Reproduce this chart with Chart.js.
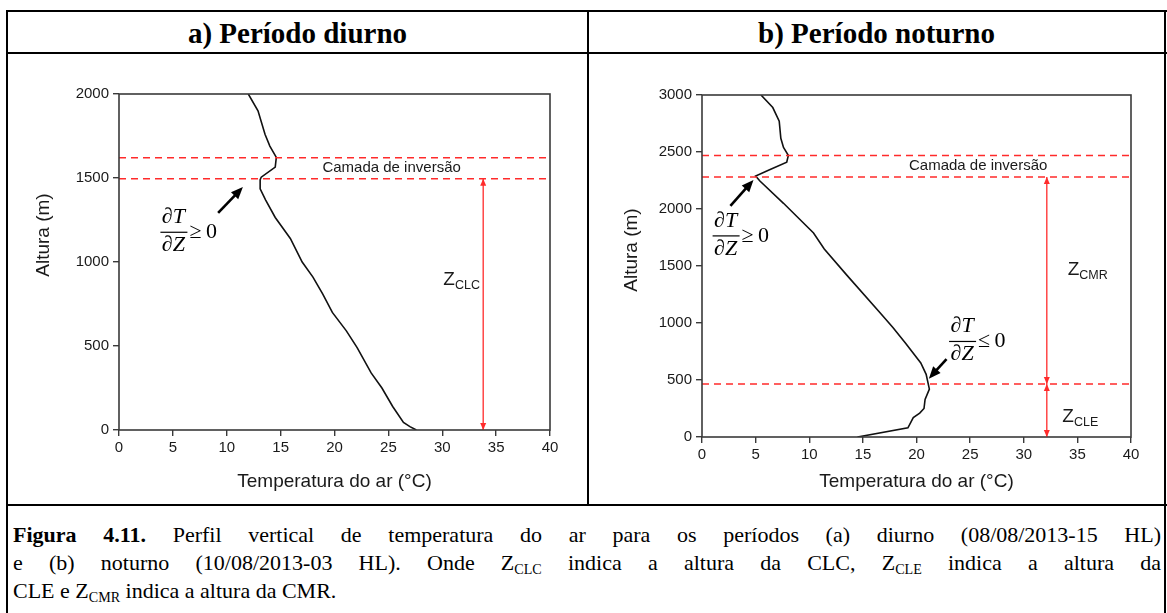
<!DOCTYPE html>
<html>
<head>
<meta charset="utf-8">
<script src="https://cdn.jsdelivr.net/npm/chart.js@4.4.0/dist/chart.umd.min.js"></script>
<style>
  body { margin: 0; width: 1167px; height: 613px; background: #fff; position: relative; overflow: hidden;
         font-family: "Liberation Serif", "Times New Roman", serif; color: #000; }
  .ln { position: absolute; background: #000; }
  .hd { position: absolute; top: 12px; height: 41px; line-height: 43px; text-align: center; font-weight: bold; font-size: 29px; }
  canvas { position: absolute; }
  #cap { position: absolute; left: 13px; top: 521px; width: 1148px; font-size: 22px; line-height: 28px; white-space: nowrap; }
  #cap .j { text-align: justify; text-align-last: justify; white-space: normal; }
  sub { font-size: 0.64em; vertical-align: -0.28em; line-height: 0; }
</style>
</head>
<body>
<!-- moldura da tabela -->
<div class="ln" style="left:6px;top:10px;width:1161px;height:2px"></div>
<div class="ln" style="left:6px;top:52px;width:1161px;height:2px"></div>
<div class="ln" style="left:6px;top:504px;width:1161px;height:2px"></div>
<div class="ln" style="left:6px;top:10px;width:2px;height:603px"></div>
<div class="ln" style="left:1164px;top:10px;width:2px;height:603px"></div>
<div class="ln" style="left:587px;top:10px;width:2px;height:495px"></div>

<div class="hd" style="left:8px;width:579px">a) Período diurno</div>
<div class="hd" style="left:589px;width:575px">b) Período noturno</div>

<canvas id="dia" width="575" height="446" style="left:10px;top:56px"></canvas>
<canvas id="noite" width="572" height="446" style="left:592px;top:56px"></canvas>

<div id="cap">
  <div class="j"><b>Figura 4.11.</b> Perfil vertical de temperatura do ar para os períodos (a) diurno (08/08/2013-15 HL)</div>
  <div class="j">e (b) noturno (10/08/2013-03 HL). Onde Z<sub>CLC</sub> indica a altura da CLC, Z<sub>CLE</sub> indica a altura da</div>
  <div>CLE e Z<sub>CMR</sub> indica a altura da CMR.</div>
</div>

<script>
// eixos
const tempTicks = [0, 5, 10, 15, 20, 25, 30, 35, 40];
const alturaTicksDia = [0, 500, 1000, 1500, 2000];
const alturaTicksNoite = [0, 500, 1000, 1500, 2000, 2500, 3000];

// perfil diurno (08/08/2013 - 15 HL)
const alturaDia = [0, 20, 45, 140, 250, 340, 490, 590, 700, 810, 910, 1000, 1140, 1265, 1370, 1435, 1490, 1505, 1565, 1623, 1690, 1760, 1900, 2000];
const tempDia   = [27.6, 27.0, 26.4, 25.4, 24.4, 23.4, 22.1, 21.1, 19.8, 18.9, 18.0, 17.0, 15.9, 14.5, 13.6, 13.1, 13.1, 13.2, 14.5, 14.6, 14.0, 13.55, 12.9, 12.0];

// perfil noturno (10/08/2013 - 03 HL)
const alturaNoite = [0, 80, 170, 210, 250, 330, 420, 550, 650, 820, 960, 1090, 1420, 1650, 1790, 2050, 2245, 2290, 2345, 2410, 2470, 2540, 2620, 2770, 2890, 3000];
const tempNoite   = [14.5, 19.2, 19.7, 20.3, 20.7, 20.8, 21.2, 20.9, 20.4, 19.0, 17.8, 16.6, 13.5, 11.4, 10.4, 7.6, 5.4, 5.0, 6.3, 7.9, 8.05, 7.6, 7.35, 7.2, 6.6, 5.5];

// camadas (m)
const inversaoDia = [1495, 1620];
const zClc = [0, 1495];
const inversaoNoite = [2280, 2470];
const zCle = [0, 465];
const zCmr = [465, 2280];
const tempSetaDia = 33.8;
const tempSetaNoite = 32.15;

const VERMELHO = '#ff2b2b';
const SANS = "'Liberation Sans', Arial, sans-serif";
const SERIF = "'Liberation Serif', 'Times New Roman', serif";

Chart.defaults.font.family = SANS;
Chart.defaults.color = '#1a1a1a';

function perfil(alturas, temps) {
  return {
    data: temps.map((t, i) => ({ x: t, y: alturas[i] })),
    showLine: true, borderColor: '#111', borderWidth: 1.6, pointRadius: 0, tension: 0
  };
}
function tracejada(h) {
  return {
    data: [{ x: 0, y: h }, { x: 40, y: h }],
    showLine: true, borderColor: VERMELHO, borderWidth: 1.5, borderDash: [7, 5], pointRadius: 0
  };
}
function vertical(t, faixa) {
  return {
    data: [{ x: t, y: faixa[0] }, { x: t, y: faixa[1] }],
    showLine: true, borderColor: VERMELHO, borderWidth: 1.3, pointRadius: 0
  };
}

function ponta(ctx, x0, y0, x1, y1, len, half) {
  const ang = Math.atan2(y1 - y0, x1 - x0);
  const c = Math.cos(ang), s = Math.sin(ang);
  ctx.beginPath();
  ctx.moveTo(x1, y1);
  ctx.lineTo(x1 - len * c + half * s, y1 - len * s - half * c);
  ctx.lineTo(x1 - len * c - half * s, y1 - len * s + half * c);
  ctx.closePath();
  ctx.fill();
}

// moldura, setas, textos e rótulo vertical
const anotacoes = {
  id: 'anotacoes',
  afterDatasetsDraw(chart, args, o) {
    const { ctx, chartArea: a, scales: { x, y } } = chart;
    ctx.save();
    ctx.strokeStyle = '#3a3a3a';
    ctx.lineWidth = 1.6;
    ctx.strokeRect(a.left, a.top, a.right - a.left, a.bottom - a.top);

    // pontas das setas vermelhas
    ctx.fillStyle = VERMELHO;
    o.cotas.forEach(c => {
      const px = x.getPixelForValue(c.t);
      const pb = y.getPixelForValue(c.faixa[0]), pt = y.getPixelForValue(c.faixa[1]);
      ponta(ctx, px, pt, px, pb, 7, 3);
      ponta(ctx, px, pb, px, pt, 7, 3);
    });

    // setas pretas
    ctx.strokeStyle = '#000';
    ctx.fillStyle = '#000';
    ctx.lineWidth = 2.6;
    o.setas.forEach(s => {
      const x0 = x.getPixelForValue(s.de[0]), y0 = y.getPixelForValue(s.de[1]);
      const x1 = x.getPixelForValue(s.ate[0]), y1 = y.getPixelForValue(s.ate[1]);
      const ang = Math.atan2(y1 - y0, x1 - x0);
      ctx.beginPath();
      ctx.moveTo(x0, y0);
      ctx.lineTo(x1 - 8 * Math.cos(ang), y1 - 8 * Math.sin(ang));
      ctx.stroke();
      ponta(ctx, x0, y0, x1, y1, 12, 5);
    });

    // textos
    ctx.fillStyle = '#1a1a1a';
    ctx.textBaseline = 'middle';
    o.textos.forEach(t => {
      ctx.font = '15px ' + SANS;
      ctx.textAlign = 'center';
      ctx.fillText(t.texto, x.getPixelForValue(t.t), y.getPixelForValue(t.h));
    });
    o.zetas.forEach(z => {
      const px = x.getPixelForValue(z.t), py = y.getPixelForValue(z.h);
      ctx.textAlign = 'left';
      ctx.font = '19px ' + SANS;
      ctx.fillText('Z', px, py);
      const w = ctx.measureText('Z').width;
      ctx.font = '12.5px ' + SANS;
      ctx.fillText(z.sub, px + w, py + 6);
    });

    // derivadas ∂T/∂Z
    ctx.fillStyle = '#000';
    o.fracoes.forEach(f => {
      const px = x.getPixelForValue(f.t), py = y.getPixelForValue(f.h);
      ctx.textAlign = 'center';
      ctx.font = 'italic 22px ' + SERIF;
      ctx.fillText('\u2202T', px, py - 15);
      ctx.fillText('\u2202Z', px, py + 13);
      ctx.fillRect(px - 13, py - 0.6, 27, 1.2);
      ctx.textAlign = 'left';
      ctx.font = '22px ' + SERIF;
      ctx.fillText(f.sinal + '\u20090', px + 16, py);
    });

    // título do eixo vertical
    ctx.translate(a.left + o.eixoY.dx, a.top + o.eixoY.dy);
    ctx.rotate(-Math.PI / 2);
    ctx.textAlign = 'center';
    ctx.fillStyle = '#1a1a1a';
    ctx.font = '19px ' + SANS;
    ctx.fillText('Altura (m)', 0, 0);
    ctx.restore();
  }
};

function opcoes(yTicks, yMax, yLargura, xAltura, pad, anot) {
  return {
    responsive: false,
    animation: false,
    devicePixelRatio: 1,
    layout: { padding: pad },
    plugins: { legend: { display: false }, tooltip: { enabled: false }, anotacoes: anot },
    scales: {
      x: {
        type: 'linear', min: 0, max: 40,
        afterBuildTicks: s => { s.ticks = tempTicks.map(v => ({ value: v })); },
        afterFit: s => { s.height = xAltura; },
        ticks: { font: { size: 15 }, padding: 3, color: '#1a1a1a', callback: v => String(v) },
        grid: { drawOnChartArea: false, tickLength: 6, color: '#3a3a3a', lineWidth: 1.4 },
        border: { display: false },
        title: { display: true, text: 'Temperatura do ar (\u00B0C)', font: { size: 19 }, color: '#1a1a1a', padding: { top: 0, bottom: 9 } }
      },
      y: {
        type: 'linear', min: 0, max: yMax,
        afterBuildTicks: s => { s.ticks = yTicks.map(v => ({ value: v })); },
        afterFit: s => { s.width = yLargura; },
        ticks: { font: { size: 15 }, padding: 4, color: '#1a1a1a', callback: v => String(v) },
        grid: { drawOnChartArea: false, tickLength: 6, color: '#3a3a3a', lineWidth: 1.4 },
        border: { display: false }
      }
    }
  };
}

new Chart(document.getElementById('dia'), {
  type: 'scatter',
  plugins: [anotacoes],
  data: {
    datasets: [
      tracejada(inversaoDia[0]), tracejada(inversaoDia[1]),
      vertical(tempSetaDia, zClc),
      perfil(alturaDia, tempDia)
    ]
  },
  options: opcoes(alturaTicksDia, 2000, 109, 72, { left: 0, right: 35, top: 38, bottom: 0 }, {
    cotas: [{ t: tempSetaDia, faixa: zClc }],
    setas: [{ de: [9.2, 1292], ate: [11.5, 1446] }],
    textos: [{ texto: 'Camada de inversão', t: 25.3, h: (inversaoDia[0] + inversaoDia[1]) / 2 }],
    zetas: [{ sub: 'CLC', t: 30.1, h: 893 }],
    fracoes: [{ sinal: '\u2265', t: 5.05, h: 1177 }],
    eixoY: { dx: -75, dy: 141 }
  })
});

new Chart(document.getElementById('noite'), {
  type: 'scatter',
  plugins: [anotacoes],
  data: {
    datasets: [
      tracejada(inversaoNoite[0]), tracejada(inversaoNoite[1]), tracejada(zCle[1]),
      vertical(tempSetaNoite, zCmr), vertical(tempSetaNoite, zCle),
      perfil(alturaNoite, tempNoite)
    ]
  },
  options: opcoes(alturaTicksNoite, 3000, 110, 65, { left: 0, right: 33, top: 39, bottom: 0 }, {
    cotas: [{ t: tempSetaNoite, faixa: zCmr }, { t: tempSetaNoite, faixa: zCle }],
    setas: [{ de: [2.65, 2028], ate: [4.8, 2255] }, { de: [22.8, 684], ate: [21.15, 512] }],
    textos: [{ texto: 'Camada de inversão', t: 25.75, h: (inversaoNoite[0] + inversaoNoite[1]) / 2 }],
    zetas: [{ sub: 'CMR', t: 34.1, h: 1467 }, { sub: 'CLE', t: 33.6, h: 178 }],
    fracoes: [{ sinal: '\u2265', t: 2.2, h: 1764 }, { sinal: '\u2264', t: 24.25, h: 838 }],
    eixoY: { dx: -70, dy: 155 }
  })
});
</script>
</body>
</html>
